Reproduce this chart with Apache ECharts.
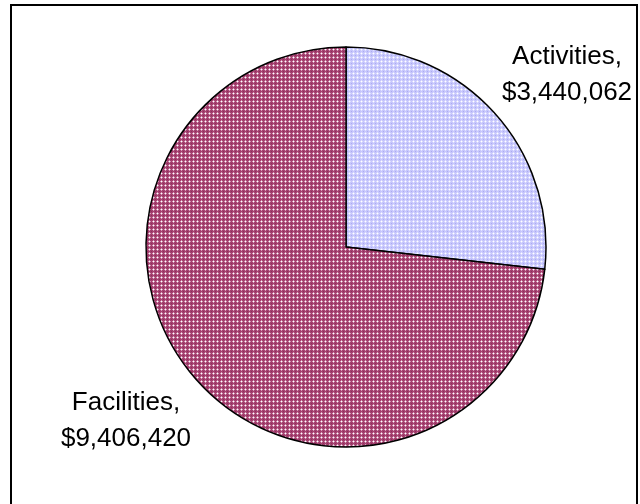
<!DOCTYPE html>
<html>
<head>
<meta charset="utf-8">
<script src="https://cdn.jsdelivr.net/npm/echarts@6/dist/echarts.min.js"></script>
<style>
html,body{margin:0;padding:0;background:#fff;}
#chart{width:640px;height:504px;}
</style>
</head>
<body>
<div id="chart"></div>
<script>
var categories = ['Activities', 'Facilities'];
var values = [3440062, 9406420];

function makePattern(base, light, dark) {
  var c = document.createElement('canvas');
  c.width = 4; c.height = 4;
  var g = c.getContext('2d');
  g.fillStyle = base; g.fillRect(0, 0, 4, 4);
  g.fillStyle = light;
  g.fillRect(1, 0, 1, 1); g.fillRect(0, 1, 1, 1); g.fillRect(2, 1, 1, 1); g.fillRect(1, 2, 1, 1);
  g.fillStyle = '#ffffff'; g.fillRect(1, 1, 1, 1);
  if (dark) { g.fillStyle = dark; g.fillRect(3, 3, 1, 1); }
  return c;
}
var patterns = [
  makePattern('#c6c6fc', '#e0e0ff', '#acacf0'),
  makePattern('#a5406f', '#d49ab7', '#8c2f5c')
];

function fmt(v) {
  return '$' + v.toString().replace(/\B(?=(\d{3})+(?!\d))/g, ',');
}

var labelPos = [[567, 75], [126, 421]];

var chart = echarts.init(document.getElementById('chart'), null, {renderer: 'canvas'});
chart.setOption({
  animation: false,
  backgroundColor: '#ffffff',
  graphic: [{
    type: 'rect',
    shape: {x: 11, y: 5, width: 626, height: 520},
    style: {fill: 'none', stroke: '#000', lineWidth: 2},
    z: 100
  }],
  series: [{
    type: 'pie',
    center: [346, 247],
    radius: [0, 200],
    startAngle: 90,
    clockwise: true,
    avoidLabelOverlap: false,
    itemStyle: {borderColor: '#000', borderWidth: 1.5},
    emphasis: {disabled: true},
    label: {
      show: true,
      position: 'outside',
      formatter: function (p) { return p.name + ',\n' + fmt(p.value); },
      fontFamily: 'Liberation Sans, Arial, sans-serif',
      fontSize: 26,
      lineHeight: 36,
      color: '#000',
      align: 'center'
    },
    labelLine: {show: false},
    labelLayout: function (p) {
      return {x: labelPos[p.dataIndex][0], y: labelPos[p.dataIndex][1], align: 'center', verticalAlign: 'middle'};
    },
    data: categories.map(function (c, i) {
      return {name: c, value: values[i], itemStyle: {color: {image: patterns[i], repeat: 'repeat'}}};
    })
  }]
});
</script>
</body>
</html>
